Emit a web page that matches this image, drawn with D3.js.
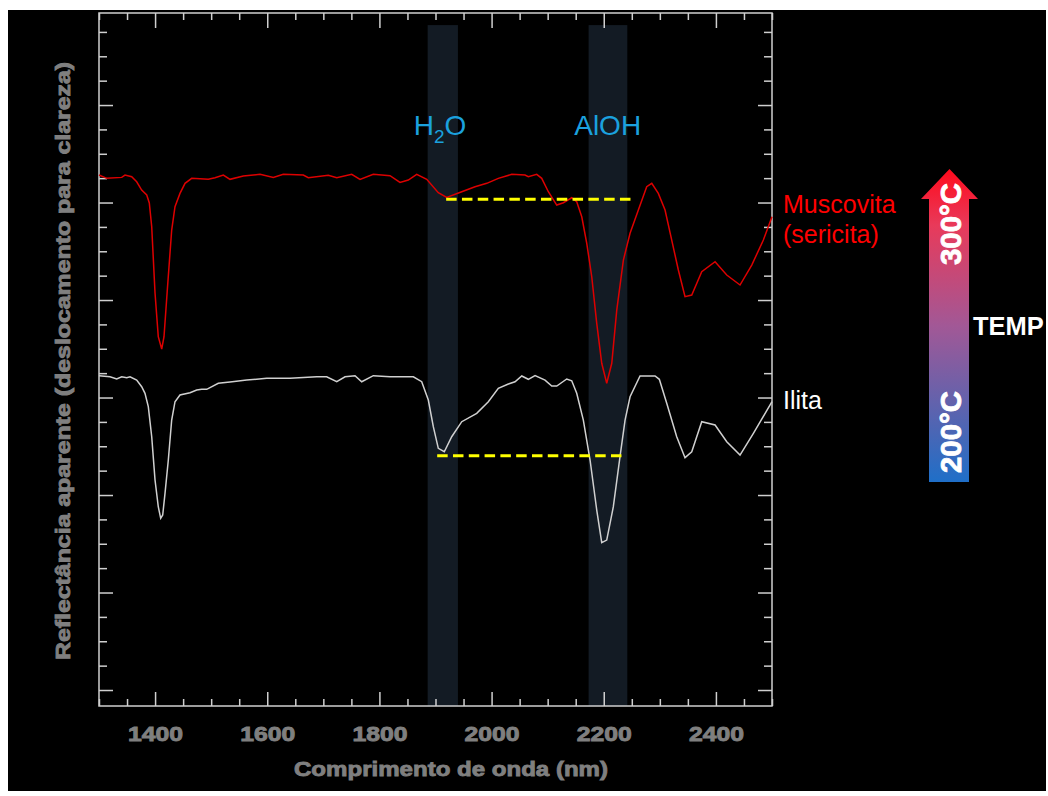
<!DOCTYPE html>
<html>
<head>
<meta charset="utf-8">
<script src="https://cdn.jsdelivr.net/npm/d3@7"></script>
<style>
  body { margin: 0; background: #fff; }
  svg { display: block; }
</style>
</head>
<body>
<div class="chart"></div>
<script>
// spectra: [wavelength nm, apparent reflectance (offset)]
let muscovita = [
  [1300, 5.282], [1313.7, 5.248], [1340.5, 5.258], [1346.4, 5.282], [1358.3, 5.265],
  [1367.2, 5.213], [1376.1, 5.128], [1385.1, 5.077], [1389.7, 4.995], [1394.0, 4.752],
  [1399.9, 4.072], [1405.7, 3.624], [1411.8, 3.497], [1415.9, 3.624], [1421.8, 4.103],
  [1429.6, 4.718], [1435.5, 4.957], [1444.4, 5.094], [1453.4, 5.197], [1465.3, 5.248],
  [1494.9, 5.238], [1506.9, 5.254], [1521.7, 5.282], [1533.6, 5.238], [1557.3, 5.272],
  [1587.1, 5.289], [1610.8, 5.258], [1628.6, 5.289], [1664.3, 5.282], [1673.2, 5.254],
  [1708.9, 5.279], [1723.9, 5.254], [1750.6, 5.289], [1765.4, 5.238], [1789.1, 5.289],
  [1818.9, 5.275], [1836.7, 5.207], [1851.5, 5.231], [1866.5, 5.289], [1884.4, 5.238],
  [1905.0, 5.101], [1920.0, 5.053], [1946.8, 5.111], [1970.5, 5.162], [1991.4, 5.197],
  [2012.0, 5.248], [2035.9, 5.289], [2059.6, 5.282], [2065.5, 5.265], [2080.5, 5.289],
  [2089.4, 5.248], [2101.2, 5.111], [2116.2, 4.974], [2128.0, 4.998], [2142.9, 5.049],
  [2151.8, 5.008], [2160.8, 4.854], [2169.7, 4.582], [2178.6, 4.239], [2187.5, 3.761],
  [2196.4, 3.351], [2205.3, 3.146], [2214.3, 3.351], [2223.2, 3.897], [2235.0, 4.410],
  [2246.9, 4.684], [2261.7, 4.923], [2276.6, 5.162], [2285.6, 5.197], [2297.3, 5.094],
  [2309.3, 4.923], [2321.2, 4.615], [2333.0, 4.308], [2344.9, 4.034], [2356.9, 4.051],
  [2374.7, 4.290], [2398.5, 4.393], [2419.3, 4.256], [2443.0, 4.154], [2463.9, 4.359],
  [2484.6, 4.615], [2500, 4.854]
];

let ilita = [
  [1300, 3.224], [1319.6, 3.213], [1331.6, 3.190], [1340.5, 3.213], [1349.4, 3.203],
  [1355.3, 3.213], [1367.2, 3.179], [1376.1, 3.111], [1382.0, 3.043], [1387.9, 2.906],
  [1394.0, 2.598], [1399.9, 2.154], [1405.7, 1.880], [1410.0, 1.761], [1413.6, 1.795],
  [1417.7, 2.017], [1423.6, 2.359], [1429.6, 2.769], [1435.5, 2.957], [1444.4, 3.026],
  [1462.3, 3.049], [1474.2, 3.077], [1483.1, 3.084], [1492.1, 3.084], [1512.7, 3.146],
  [1533.6, 3.159], [1563.4, 3.179], [1599.0, 3.197], [1640.6, 3.197], [1688.2, 3.213],
  [1706.0, 3.213], [1723.9, 3.162], [1738.7, 3.213], [1756.5, 3.224], [1768.4, 3.162],
  [1789.1, 3.224], [1818.9, 3.213], [1860.5, 3.213], [1875.4, 3.162], [1887.2, 2.974],
  [1896.1, 2.701], [1905.0, 2.479], [1915.7, 2.444], [1928.9, 2.598], [1946.8, 2.752],
  [1973.5, 2.838], [1994.2, 2.957], [2012.0, 3.094], [2029.9, 3.138], [2041.8, 3.162],
  [2053.8, 3.221], [2065.5, 3.187], [2077.5, 3.224], [2095.3, 3.179], [2107.3, 3.118],
  [2116.2, 3.118], [2134.0, 3.190], [2142.9, 3.172], [2151.8, 3.043], [2163.6, 2.769],
  [2175.6, 2.359], [2187.5, 1.846], [2196.4, 1.511], [2205.3, 1.538], [2217.1, 1.880],
  [2229.0, 2.393], [2238.0, 2.769], [2246.9, 3.008], [2264.7, 3.221], [2291.5, 3.221],
  [2299.1, 3.187], [2312.3, 2.941], [2330.1, 2.598], [2344.9, 2.383], [2356.9, 2.444],
  [2374.7, 2.752], [2398.5, 2.718], [2419.3, 2.547], [2443.0, 2.410], [2466.8, 2.633],
  [2500, 2.957]
];

// absorption bands [from, to] nm
let bandNames = ["H2O", "AlOH"];
let bands = [[1886, 1940], [2173, 2242]];
let bandTop = 6.82;

// yellow reference lines [from, to, level]
let refLines = [[1919, 2254, 5.033], [1903, 2238, 2.403]];

let xMajor = [1400, 1600, 1800, 2000, 2200, 2400];
let xMinor = d3.range(1300, 2501, 50).filter(v => v % 200 !== 0);
let yMajor = [0, 1, 2, 3, 4, 5, 6];
let yMinor = d3.range(0.25, 6.9, 0.25).filter(v => v % 1 !== 0);

let xTitle = "Comprimento de onda (nm)";
let yTitle = "Reflectância aparente (deslocamento para clareza)";

let svgWidth = 1048;
let svgHeight = 796;

let margin = { top: 13, right: 276, bottom: 90, left: 99 };
let width = svgWidth - margin.left - margin.right;
let height = svgHeight - margin.top - margin.bottom;

let svg = d3.select(".chart")
  .append("svg")
  .attr("width", svgWidth)
  .attr("height", svgHeight);

// black slide background
svg.append("rect")
  .attr("x", 8).attr("y", 10)
  .attr("width", 1038).attr("height", 781)
  .attr("fill", "#000");

let chartGroup = svg.append("g")
  .attr("transform", `translate(${margin.left}, ${margin.top})`);

let x = d3.scaleLinear().domain([1300, 2500]).range([0, width]);
let y = d3.scaleLinear().domain([-0.164, 6.944]).range([height, 0]);

// bands
chartGroup.selectAll(".band")
  .data(bands)
  .enter()
  .append("rect")
  .attr("class", "band")
  .attr("x", d => x(d[0]))
  .attr("width", d => x(d[1]) - x(d[0]))
  .attr("y", y(bandTop))
  .attr("height", y(y.domain()[0]) - y(bandTop))
  .attr("fill", "#131b24");

// axes, ticks pointing in
let gray = "#7f7f7f";
let frame = "#cfcfcf";

function styleAxis(g) {
  g.select(".domain").remove();
  g.selectAll(".tick line").attr("stroke", frame).attr("stroke-width", 1.5);
}

chartGroup.append("g")
  .attr("transform", `translate(0, ${height})`)
  .call(d3.axisBottom(x).tickValues(xMinor).tickSize(-7).tickFormat(""))
  .call(styleAxis);

let bottomAxis = chartGroup.append("g")
  .attr("transform", `translate(0, ${height})`)
  .call(d3.axisBottom(x).tickValues(xMajor).tickSize(-14).tickPadding(20).tickFormat(d3.format("d")))
  .call(styleAxis);

bottomAxis.selectAll("text")
  .attr("fill", gray)
  .attr("stroke", gray)
  .attr("stroke-width", 0.9)
  .style("font-family", "'Liberation Sans', Arial, sans-serif")
  .style("font-weight", "bold")
  .style("font-size", "21px")
  .attr("textLength", 55)
  .attr("lengthAdjust", "spacingAndGlyphs");

chartGroup.append("g")
  .call(d3.axisTop(x).tickValues(xMinor).tickSize(-7).tickFormat(""))
  .call(styleAxis);
chartGroup.append("g")
  .call(d3.axisTop(x).tickValues(xMajor).tickSize(-15).tickFormat(""))
  .call(styleAxis);

chartGroup.append("g")
  .call(d3.axisLeft(y).tickValues(yMinor).tickSize(-8).tickFormat(""))
  .call(styleAxis);
chartGroup.append("g")
  .call(d3.axisLeft(y).tickValues(yMajor).tickSize(-14).tickFormat(""))
  .call(styleAxis);

chartGroup.append("g")
  .attr("transform", `translate(${width}, 0)`)
  .call(d3.axisRight(y).tickValues(yMinor).tickSize(-8).tickFormat(""))
  .call(styleAxis);
chartGroup.append("g")
  .attr("transform", `translate(${width}, 0)`)
  .call(d3.axisRight(y).tickValues(yMajor).tickSize(-14).tickFormat(""))
  .call(styleAxis);

chartGroup.append("rect")
  .attr("width", width)
  .attr("height", height)
  .attr("fill", "none")
  .attr("stroke", frame)
  .attr("stroke-width", 1.5);

// spectra
let line = d3.line()
  .x(d => x(d[0]))
  .y(d => y(d[1]));

chartGroup.append("path")
  .datum(muscovita)
  .attr("d", line)
  .attr("fill", "none")
  .attr("stroke", "#dd0000")
  .attr("stroke-width", 1.5);

chartGroup.append("path")
  .datum(ilita)
  .attr("d", line)
  .attr("fill", "none")
  .attr("stroke", "#d0d0d0")
  .attr("stroke-width", 1.5);

// yellow dashed reference lines
chartGroup.selectAll(".ref")
  .data(refLines)
  .enter()
  .append("line")
  .attr("class", "ref")
  .attr("x1", d => x(d[0]))
  .attr("x2", d => x(d[1]))
  .attr("y1", d => y(d[2]))
  .attr("y2", d => y(d[2]))
  .attr("stroke", "#ffff00")
  .attr("stroke-width", 3)
  .attr("stroke-dasharray", "10.5,5.3");

// band labels
let blue = "#1ba1de";
let h2o = chartGroup.append("text")
  .attr("x", x(1908))
  .attr("y", y(5.69))
  .attr("text-anchor", "middle")
  .attr("fill", blue)
  .style("font-family", "'Liberation Sans', Arial, sans-serif")
  .style("font-size", "28px");
h2o.append("tspan").text("H");
h2o.append("tspan").attr("dy", 8).style("font-size", "19px").text("2");
h2o.append("tspan").attr("dy", -8).text("O");

chartGroup.append("text")
  .attr("x", x(2207))
  .attr("y", y(5.69))
  .attr("text-anchor", "middle")
  .attr("fill", blue)
  .style("font-family", "'Liberation Sans', Arial, sans-serif")
  .style("font-size", "28px")
  .text("AlOH");

// series labels
let labelFont = "'Liberation Sans', Arial, sans-serif";
svg.append("text").attr("x", 783).attr("y", 213).attr("fill", "#ff0000")
  .style("font-family", labelFont).style("font-size", "25px").text("Muscovita");
svg.append("text").attr("x", 783).attr("y", 243).attr("fill", "#ff0000")
  .style("font-family", labelFont).style("font-size", "25px").text("(sericita)");
svg.append("text").attr("x", 783).attr("y", 409).attr("fill", "#ffffff")
  .style("font-family", labelFont).style("font-size", "25px").text("Ilita");

// temperature arrow
let defs = svg.append("defs");
let grad = defs.append("linearGradient")
  .attr("id", "tempGrad")
  .attr("gradientUnits", "userSpaceOnUse")
  .attr("x1", 0).attr("y1", 482).attr("x2", 0).attr("y2", 169);
[["0", "#1f6fc8"], ["0.16", "#4a66b5"], ["0.5", "#a25896"], ["0.82", "#e83a5a"], ["1", "#ff0a1c"]]
  .forEach(s => grad.append("stop").attr("offset", s[0]).attr("stop-color", s[1]));

svg.append("path")
  .attr("d", "M929,482 L929,199 L921,199 L949.5,169 L978,199 L969,199 L969,482 Z")
  .attr("fill", "url(#tempGrad)");

[["300°C", 224], ["200°C", 432]].forEach(t => {
  svg.append("text")
    .attr("transform", `translate(961, ${t[1]}) rotate(-90)`)
    .attr("text-anchor", "middle")
    .attr("fill", "#fff")
    .attr("stroke", "#fff")
    .attr("stroke-width", 0.8)
    .style("font-family", labelFont)
    .style("font-weight", "bold")
    .style("font-size", "29px")
    .attr("textLength", 82)
    .attr("lengthAdjust", "spacingAndGlyphs")
    .text(t[0]);
});

svg.append("text")
  .attr("x", 973).attr("y", 335)
  .attr("fill", "#fff")
  .style("font-family", labelFont)
  .style("font-weight", "bold")
  .style("font-size", "25.5px")
  .text("TEMP");

// axis titles
svg.append("text")
  .attr("x", 451)
  .attr("y", 776)
  .attr("text-anchor", "middle")
  .attr("fill", gray)
  .attr("stroke", gray)
  .attr("stroke-width", 0.9)
  .style("font-family", labelFont)
  .style("font-weight", "bold")
  .style("font-size", "21px")
  .attr("textLength", 314)
  .attr("lengthAdjust", "spacingAndGlyphs")
  .text(xTitle);

svg.append("text")
  .attr("transform", "translate(70, 361) rotate(-90)")
  .attr("text-anchor", "middle")
  .attr("fill", gray)
  .attr("stroke", gray)
  .attr("stroke-width", 0.9)
  .style("font-family", labelFont)
  .style("font-weight", "bold")
  .style("font-size", "21px")
  .attr("textLength", 598)
  .attr("lengthAdjust", "spacingAndGlyphs")
  .text(yTitle);
</script>
</body>
</html>
